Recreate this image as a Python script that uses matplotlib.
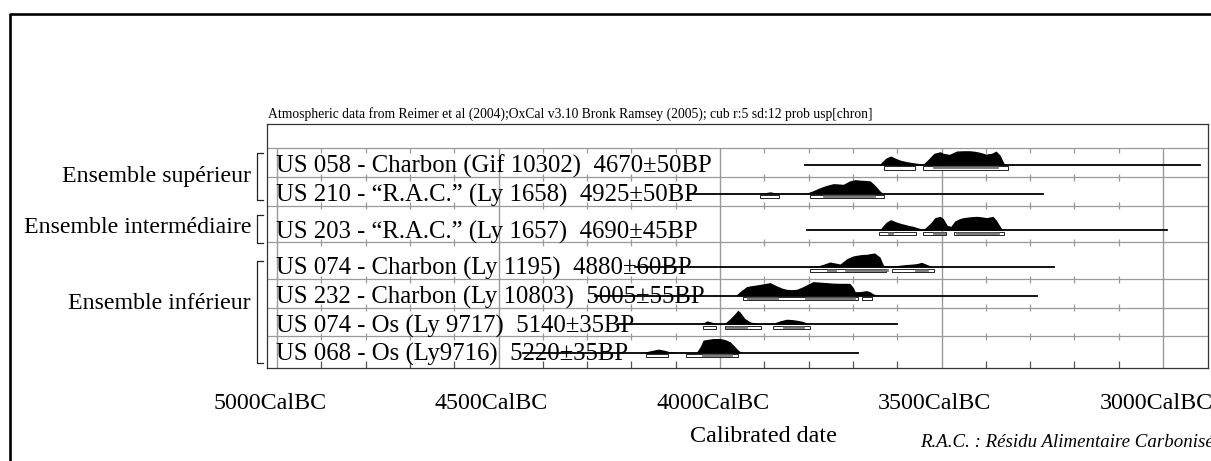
import matplotlib
matplotlib.use("Agg")
import matplotlib.pyplot as plt
from matplotlib.lines import Line2D
from matplotlib.patches import Rectangle
from matplotlib.transforms import blended_transform_factory, ScaledTranslation

plt.rcParams["font.family"] = ["Liberation Serif", "DejaVu Serif"]

# --- data -----------------------------------------------------------------
row_labels = [
    "US 058 - Charbon (Gif 10302)  4670\u00b150BP",
    "US 210 - \u201cR.A.C.\u201d (Ly 1658)  4925\u00b150BP",
    "US 203 - \u201cR.A.C.\u201d (Ly 1657)  4690\u00b145BP",
    "US 074 - Charbon (Ly 1195)  4880\u00b160BP",
    "US 232 - Charbon (Ly 10803)  5005\u00b155BP",
    "US 074 - Os (Ly 9717)  5140\u00b135BP",
    "US 068 - Os (Ly9716)  5220\u00b135BP",
]
group_names = ["Ensemble sup\u00e9rieur", "Ensemble interm\u00e9diaire", "Ensemble inf\u00e9rieur"]
row_group = [0, 0, 1, 2, 2, 2, 2]

# extent of the plotted baseline (cal BC)
line_start = [3808, 4070, 3803, 4192, 4282, 4230, 4445]
line_end = [2916, 3272, 2992, 3246, 3284, 3601, 3689]

# probability distributions (cal BC, relative probability, max ~14)
dist_years = [
    [3640, 3635, 3625, 3615, 3605, 3594, 3580, 3564, 3550, 3541, 3530, 3517, 3503,
     3496, 3482, 3466, 3450, 3436, 3424, 3413, 3400, 3387, 3377, 3368, 3359, 3349],
    [3915, 3900, 3887, 3875, 3860, 3820, 3805, 3791, 3774, 3759, 3744, 3733, 3722,
     3707, 3695, 3685, 3676, 3661, 3650, 3639, 3631],
    [3641, 3635, 3625, 3615, 3600, 3590, 3575, 3564, 3550, 3541, 3526, 3515, 3503,
     3496, 3487, 3479, 3470, 3460, 3451, 3436, 3421, 3410, 3398, 3384, 3376, 3366, 3361],
    [3800, 3780, 3765, 3752, 3740, 3729, 3714, 3700, 3692, 3680, 3669, 3660, 3651,
     3639, 3631, 3616, 3600, 3580, 3564, 3555, 3545, 3530, 3518],
    [3965, 3955, 3940, 3928, 3917, 3900, 3887, 3872, 3860, 3850, 3838, 3827, 3815,
     3805, 3790, 3775, 3759, 3745, 3729, 3707, 3699, 3695, 3684, 3669, 3660, 3654, 3639],
    [4045, 4038, 4029, 4018, 4008, 3993, 3985, 3977, 3966, 3960, 3955, 3944, 3932,
     3920, 3910, 3890, 3880, 3865, 3850, 3838, 3827, 3815, 3808, 3801],
    [4175, 4166, 4152, 4139, 4125, 4113, 4090, 4053, 4045, 4038, 4030, 4015, 4000,
     3989, 3977, 3966, 3959, 3951],
]
dist_prob = [
    [0, 3, 7, 9, 7, 5, 3.5, 2.3, 1.5, 1, 5.7, 11.7, 13.3,
     11.7, 10.7, 14, 14.3, 14.3, 13.7, 12.7, 11, 11.7, 14, 10, 1.7, 0],
    [0, 0.8, 1.8, 0.8, 0.3, 0.3, 0.5, 2.7, 6, 8.3, 10, 9.7, 9.3,
     12.7, 14, 13.5, 13.3, 12.7, 8.3, 2.7, 0],
    [0, 3, 8, 10.7, 8, 6.7, 5, 4, 2, 0.7, 6.7, 12.7, 14,
     11.7, 5, 4, 9.3, 11.5, 12.7, 13.5, 14, 13.5, 12.7, 14, 10, 2.7, 0],
    [0.2, 1, 3, 5, 4, 3, 8.3, 11, 11.7, 12.5, 12.7, 13.5, 14,
     10, 1.7, 0.7, 1.5, 2.5, 3, 3.5, 4.7, 2, 0],
    [0, 4, 9, 10, 10.7, 12, 13, 9.7, 7.5, 6.3, 6, 6.3, 8.5,
     10.7, 14, 13.5, 13, 12.5, 12.3, 12.3, 8, 4, 4, 5, 3.5, 1.7, 0],
    [0, 1.5, 3.3, 2, 0.5, 0.5, 2.5, 5.7, 10.7, 14, 12.3, 5.7, 2.3,
     1.2, 0.7, 0.7, 1, 3.3, 5, 4.7, 4, 3, 2, 0],
    [0, 1.2, 2.5, 3.7, 2.5, 1, 0.5, 0.5, 6, 12.7, 13.3, 14.3, 14.3,
     13.3, 11, 6, 2.7, 0],
]

# highest posterior density ranges (cal BC)
range95 = [
    [(3630, 3560), (3541, 3349)],
    [(3910, 3867), (3798, 3629)],
    [(3641, 3558), (3541, 3489), (3472, 3359)],
    [(3798, 3625), (3611, 3518)],
    [(3949, 3689), (3679, 3658)],
    [(4038, 4008), (3989, 3907), (3880, 3798)],
    [(4167, 4117), (4077, 3959)],
]
range68 = [
    [(3520, 3372)],
    [(3768, 3650)],
    [(3621, 3609), (3520, 3492), (3467, 3370)],
    [(3759, 3738), (3718, 3621), (3560, 3530)],
    [(3940, 3869), (3808, 3695)],
    [(3986, 3938), (3858, 3810)],
    [(4041, 3974)],
]

tick_years = [5000, 4500, 4000, 3500, 3000]
tick_labels = ["%dCalBC" % y for y in tick_years]
header = ("Atmospheric data from Reimer et al (2004);OxCal v3.10 Bronk Ramsey (2005); "
          "cub r:5 sd:12 prob usp[chron]")

# --- layout (y in pixel-like units, row 0 baseline = 0, downward) ----------
ROW_H = 28.6
GROUP_GAP = 8.1
row_y = [i * ROW_H + g * GROUP_GAP for i, g in enumerate(row_group)]
group_label_y = [10, 61, 137]
brackets = [(-12, 35), (50, 78), (96, 198)]
Y_TOP, Y_HEAD, Y_BOT = -41.0, -16.7, 202.7

fig = plt.figure(figsize=(12.11, 4.61), dpi=100)
ax = fig.add_axes([267 / 1211, 1 - 367.7 / 461, 940.5 / 1211, 243.7 / 461])
ax.set_xlim(5022.6, 2899.6)
ax.set_ylim(Y_BOT, Y_TOP)
ax.set_xticks([])
ax.set_yticks([])
for s in ax.spines.values():
    s.set_linewidth(0.9)
    s.set_color("#333333")

grid_c = "#9a9a9a"
# horizontal row separators
hlines = [Y_HEAD] + [y + 12.2 for y in row_y[:-1]]
ax.hlines(hlines, 5022.6, 2899.6, color=grid_c, lw=0.9, zorder=1)
# major vertical lines
ax.vlines(tick_years, Y_HEAD, Y_BOT, color=grid_c, lw=1.0, zorder=1)
# minor ticks every 100 years crossing separators
minor = [y for y in range(4900, 2999, -100) if y % 500]
ax.vlines(minor, Y_HEAD, Y_HEAD + 5, color=grid_c, lw=0.9, zorder=1)
for h in hlines[1:]:
    ax.vlines(minor, h - 3.5, h + 3.5, color=grid_c, lw=0.9, zorder=1)
ax.vlines(minor, Y_BOT - 7, Y_BOT, color="#555555", lw=0.9, zorder=1)

x_ax = blended_transform_factory(ax.transAxes, ax.transData)
for i, lab in enumerate(row_labels):
    y = row_y[i]
    ax.text(9 / 940.5, y + 8, lab, transform=x_ax, fontsize=17.8,
            ha="left", va="baseline", zorder=3)
    ax.fill_between(dist_years[i], y, [y - p for p in dist_prob[i]],
                    color="black", lw=0, zorder=4)
    ax.plot([line_start[i], line_end[i]], [y, y], color="black", lw=1.3, zorder=5)
    for a, b in range95[i]:
        ax.add_patch(Rectangle((min(a, b), y + 1.5), abs(a - b), 3.2, facecolor="white",
                               edgecolor="black", lw=0.6, zorder=5))
    for a, b in range68[i]:
        ax.add_patch(Rectangle((min(a, b), y + 1.5), abs(a - b), 2.0, facecolor="#7a7a7a",
                               edgecolor="#555555", lw=0.4, zorder=6))

for name, gy, (b0, b1) in zip(group_names, group_label_y, brackets):
    ax.text(-16 / 940.5, gy + 7, name, transform=x_ax, fontsize=17.2,
            ha="right", va="baseline", clip_on=False)
    bx0, bx1 = -10 / 940.5, -4 / 940.5
    ax.add_line(Line2D([bx1, bx0, bx0, bx1], [b0, b0, b1, b1], transform=x_ax,
                       color="#222222", lw=0.9, clip_on=False))

x_lab = blended_transform_factory(ax.transData, ax.transAxes) + \
    ScaledTranslation(-7 / 100, 0, fig.dpi_scale_trans)
for yr, lab in zip(tick_years, tick_labels):
    ax.text(yr, -35.5 / 243.7, lab, transform=x_lab, fontsize=17.3,
            ha="center", va="center", clip_on=False)

fig.text(268 / 1211, 1 - 114.5 / 461, header, fontsize=9.8, ha="left", va="center")
fig.text(763 / 1211, 1 - 436.5 / 461, "Calibrated date", fontsize=17.4,
         ha="center", va="center")
fig.text(920 / 1211, 1 - 447.4 / 461, "R.A.C. : R\u00e9sidu Alimentaire Carbonis\u00e9",
         fontsize=13.6, style="italic", ha="left", va="baseline")

# outer frame (open to the right and bottom, cut by the picture)
fig.add_artist(Line2D([10.5 / 1211, 10.5 / 1211, 1.01], [-0.01, 1 - 13.7 / 461, 1 - 13.7 / 461],
                      transform=fig.transFigure, color="black", lw=1.9))

fig.savefig("out.png", dpi=100)
